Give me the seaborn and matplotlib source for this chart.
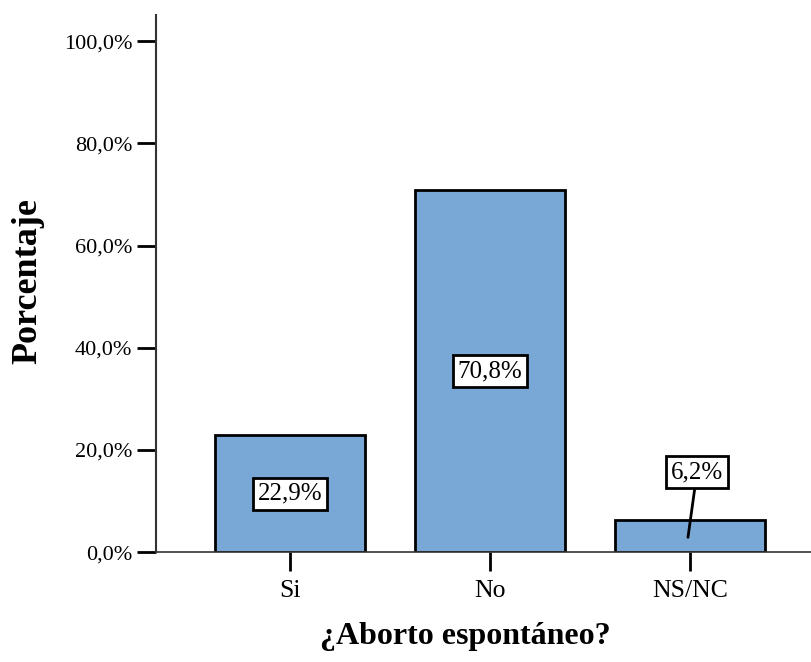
import matplotlib
matplotlib.use("Agg")
import matplotlib.pyplot as plt
import seaborn as sns
import pandas as pd
from matplotlib.ticker import FuncFormatter

categorias = ["Si", "No", "NS/NC"]
porcentajes = [22.9, 70.8, 6.2]
etiquetas = ["22,9%", "70,8%", "6,2%"]

df = pd.DataFrame({"cat": categorias, "pct": porcentajes})

sns.set_style("white")
plt.rcParams["font.family"] = ["Liberation Serif", "DejaVu Serif"]
plt.rcParams["text.color"] = "black"
plt.rcParams["axes.labelcolor"] = "black"
plt.rcParams["xtick.color"] = "black"
plt.rcParams["ytick.color"] = "black"

fig = plt.figure(figsize=(8.12, 6.62), dpi=100)
ax = fig.add_axes([0.192, 0.166, 0.808, 0.811])

sns.barplot(data=df, x="cat", y="pct", color="#79A8D6", width=0.75,
            edgecolor="black", linewidth=2, saturation=1, ax=ax)

box = dict(boxstyle="square,pad=0.2", fc="white", ec="black", lw=2)
for i, (v, t) in enumerate(zip(porcentajes, etiquetas)):
    if v > 15:
        ax.text(i, v / 2, t, ha="center", va="center", fontsize=18, bbox=box)
    else:
        ax.annotate(t, xy=(i - 0.01, 2.9), xytext=(i + 0.035, 15.6),
                    ha="center", va="center", fontsize=18, bbox=box,
                    arrowprops=dict(arrowstyle="-", color="black", lw=2,
                                    shrinkA=0, shrinkB=0))

ax.set_xlim(-0.67, 2.61)
ax.set_ylim(0, 105.1)
ax.set_yticks([0, 20, 40, 60, 80, 100])
ax.yaxis.set_major_formatter(FuncFormatter(lambda v, p: f"{v:.1f}%".replace(".", ",")))
ax.tick_params(axis="both", length=14, width=2, color="black",
               left=True, bottom=True, pad=3)
ax.tick_params(axis="y", labelsize=16)
ax.tick_params(axis="x", labelsize=18.5, pad=6)

for s in ["top", "right"]:
    ax.spines[s].set_visible(False)
ax.spines["left"].set_linewidth(1.5)
ax.spines["bottom"].set_linewidth(1.2)
ax.spines["left"].set_color("#333333")
ax.spines["bottom"].set_color("#333333")

ax.set_xlabel("¿Aborto espontáneo?", fontsize=23, fontweight="bold")
ax.xaxis.set_label_coords(0.471, -0.13)
ax.set_ylabel("Porcentaje", fontsize=26, fontweight="bold")
ax.yaxis.set_label_coords(-0.17, 0.505)

fig.savefig("out.png", dpi=100)
